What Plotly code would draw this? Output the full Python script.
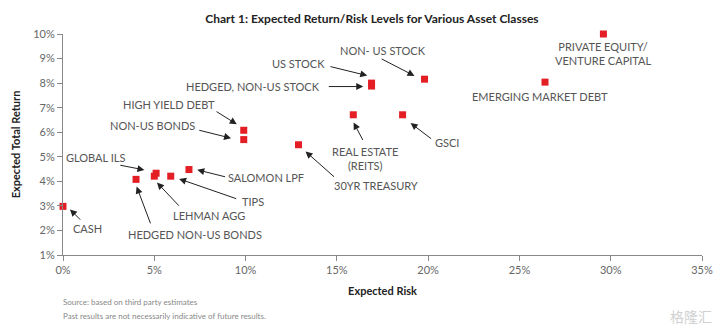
import plotly.graph_objects as go

# Asset classes: expected risk (x, %) and expected total return (y, %)
assets = [
    "CASH", "HEDGED NON-US BONDS", "LEHMAN AGG", "GLOBAL ILS", "TIPS",
    "SALOMON LPF", "NON-US BONDS", "HIGH YIELD DEBT", "30YR TREASURY",
    "REAL ESTATE<br>(REITS)", "GSCI", "US STOCK", "HEDGED, NON-US STOCK",
    "NON- US STOCK", "PRIVATE EQUITY/<br>VENTURE CAPITAL", "EMERGING MARKET DEBT",
]
risk = [0.0, 4.0, 5.0, 5.1, 5.9, 6.9, 9.9, 9.9, 12.9, 15.9, 18.6, 16.9, 16.9, 19.8, 29.6, 26.4]
ret = [2.98, 4.08, 4.21, 4.33, 4.21, 4.48, 5.70, 6.08, 5.49, 6.71, 6.71, 8.0, 7.88, 8.16, 10.0, 8.04]

x_ticks = [0, 5, 10, 15, 20, 25, 30, 35]
y_ticks = [1, 2, 3, 4, 5, 6, 7, 8, 9, 10]

# Label placement per asset, in pixels relative to the marker (screen y down):
# (text dx, text dy, text xanchor, arrow head (dx, dy), arrow tail (dx, dy)) ; None = no arrow
label_layout = [
    (24.5, 22, "center", (7, 3), (18.7, 14.7)),
    (58.5, 54.8, "center", (0.6, 7.2), (15, 45.5)),
    (54.7, 39.7, "center", (2.7, 6.4), (26, 31)),
    (-60.7, -15.6, "center", (-11.7, -3.3), (-37.3, -8.3)),
    (82.7, 25.7, "center", (8.4, 2.7), (67, 23)),
    (76.6, 8.3, "center", (8.3, 0.3), (37.6, 7.6)),
    (-91.7, -14, "center", (-12.7, -1.4), (-46, -9.7)),
    (-75, -25.3, "center", (-7, -6), (-28.7, -19.6)),
    (77, 40.7, "center", (7, 6.7), (37, 33.3)),
    (11.6, 44, "center", (0.3, 7.7), (10.3, 26.7)),
    (44.7, 27.7, "center", (8, 8.3), (30, 25)),
    (-73.3, -19.9, "center", (-4.3, -7.5), (-42.6, -16.9)),
    (-49.3, 0.5, "right", (-8.3, 0.5), (-44.3, 0.5)),
    (-41.6, -28.6, "center", (-10, -3.3), (-44.3, -21)),
    (-0.7, 19.5, "center", None, None),
    (-5, 14, "center", None, None),
]

LABEL_FONT = dict(family="Lato", size=11, color="#555555")
ARROW_COLOR = "#222222"

fig = go.Figure()
fig.add_trace(go.Scatter(
    x=risk, y=ret, mode="markers",
    marker=dict(symbol="square", size=7, color="#e31e24", line=dict(width=0)),
    cliponaxis=False, hoverinfo="text", text=assets,
))

annotations = []
for name, xv, yv, (tdx, tdy, anchor, head, tail) in zip(assets, risk, ret, label_layout):
    annotations.append(dict(
        x=xv, y=yv, xref="x", yref="y", text=name, showarrow=False,
        xshift=tdx, yshift=-tdy, xanchor=anchor, yanchor="middle",
        font=LABEL_FONT, align="center",
    ))
    if head is not None:
        annotations.append(dict(
            x=xv, y=yv, xref="x", yref="y", text="", showarrow=True,
            xshift=head[0], yshift=-head[1],
            ax=tail[0] - head[0], ay=tail[1] - head[1],
            arrowhead=2, arrowsize=1.4, arrowwidth=1, arrowcolor=ARROW_COLOR,
            standoff=0, startstandoff=0,
        ))

# Footnotes and watermark
annotations += [
    dict(x=61, y=302, xref="paper", yref="paper", text="Source: based on third party estimates",
         showarrow=False, xanchor="left", yanchor="middle",
         font=dict(family="Lato", size=8, color="#888888")),
    dict(x=61, y=316, xref="paper", yref="paper",
         text="Past results are not necessarily indicative of future results.",
         showarrow=False, xanchor="left", yanchor="middle",
         font=dict(family="Lato", size=8, color="#888888")),
    dict(x=720, y=316, xref="paper", yref="paper", text="格隆汇",
         showarrow=False, xanchor="right", yanchor="middle",
         font=dict(family="Noto Sans CJK SC", size=14, color="#d0d0d0")),
]

W, H = 725, 331
ML, MR, MT, MB = 63, 17, 34, 76
pw, ph = W - ML - MR, H - MT - MB
# convert pixel positions of the paper-anchored notes into paper fractions
for a in annotations:
    if a.get("xref") == "paper":
        a["x"] = (a["x"] - ML) / pw
        a["y"] = 1 - (a["y"] - MT) / ph

axis_common = dict(
    showgrid=False, zeroline=False, showline=True, linecolor="#888888", linewidth=1,
    ticks="outside", ticklen=5, tickcolor="#888888", tickwidth=1,
    tickfont=dict(family="Lato", size=11, color="#666666"),
)

fig.update_layout(
    width=W, height=H,
    margin=dict(l=ML, r=MR, t=MT, b=MB),
    paper_bgcolor="white", plot_bgcolor="white",
    showlegend=False,
    title=dict(
        text="<b>Chart 1: Expected Return/Risk Levels for Various Asset Classes</b>",
        x=372 / W, xanchor="center", y=1 - 19 / H, yanchor="middle",
        font=dict(family="Lato", size=12, color="#222222"),
    ),
    xaxis=dict(
        range=[0, 35], tickvals=x_ticks, ticktext=[f"{v}%" for v in x_ticks],
        title=dict(text="<b>Expected Risk</b>", standoff=12,
                   font=dict(family="Lato", size=11, color="#222222")),
        **axis_common,
    ),
    yaxis=dict(
        range=[1, 10], tickvals=y_ticks, ticktext=[f"{v}%" for v in y_ticks],
        title=dict(text="<b>Expected Total Return</b>", standoff=10,
                   font=dict(family="Lato", size=11, color="#222222")),
        **axis_common,
    ),
    annotations=annotations,
)

fig.write_html("out.html")
